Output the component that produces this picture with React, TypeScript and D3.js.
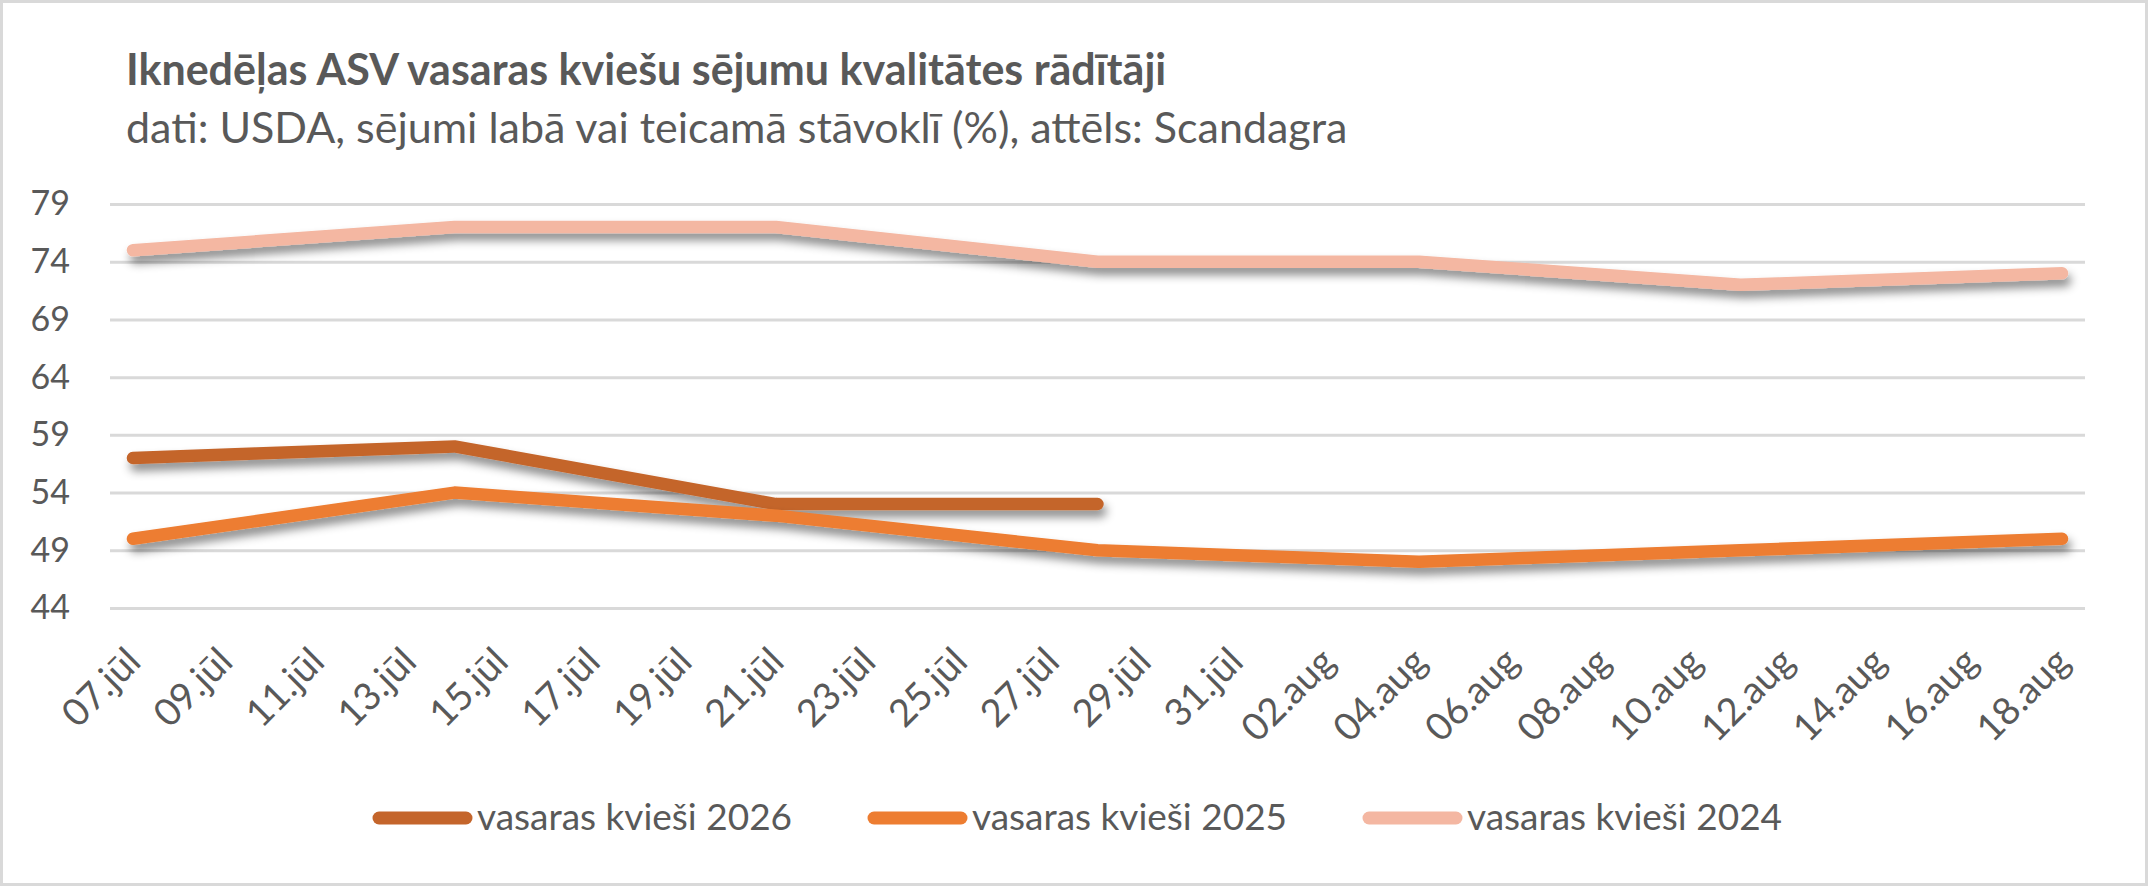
import { useEffect, useRef } from "react";
import * as d3 from "d3";

const W = 2148;
const H = 886;
const PLOT = { left: 110, right: 2085, top: 204, bottom: 608 };

// weekly USDA readings (good/excellent %)
const weekDates = ["2025-07-07", "2025-07-14", "2025-07-21", "2025-07-28", "2025-08-04", "2025-08-11", "2025-08-18"];
const wheat2026 = [57, 58, 53, 53];
const wheat2025 = [50, 54, 52, 49, 48, 49, 50];
const wheat2024 = [75, 77, 77, 74, 74, 72, 73];

const seriesNames = ["vasaras kvieši 2026", "vasaras kvieši 2025", "vasaras kvieši 2024"];
const seriesColors = ["#C4652B", "#ED7D31", "#F4B7A2"];

const yTicks = [44, 49, 54, 59, 64, 69, 74, 79];
const xTickLabels = [
  "07.jūl", "09.jūl", "11.jūl", "13.jūl", "15.jūl", "17.jūl", "19.jūl", "21.jūl", "23.jūl", "25.jūl", "27.jūl",
  "29.jūl", "31.jūl", "02.aug", "04.aug", "06.aug", "08.aug", "10.aug", "12.aug", "14.aug", "16.aug", "18.aug",
];

const TITLE = "Iknedēļas ASV vasaras kviešu sējumu kvalitātes rādītāji";
const SUBTITLE = "dati: USDA, sējumi labā vai teicamā stāvoklī (%), attēls: Scandagra";

const FONT = "Lato, 'Open Sans', sans-serif";
const TEXT = "#595959";

export default function App() {
  const svgRef = useRef<SVGSVGElement>(null);

  useEffect(() => {
    const svg = svgRef.current;
    if (!svg) return;
    const root = d3.select(svg);
    root.selectAll("*").remove();

    const parse = d3.timeParse("%Y-%m-%d");
    const dates = weekDates.map((d) => parse(d) as Date);
    const first = dates[0];
    const last = dates[dates.length - 1];

    // date axis with half a day of padding on each side, like Excel
    const x = d3
      .scaleTime()
      .domain([d3.timeHour.offset(first, -12), d3.timeHour.offset(last, 12)])
      .range([PLOT.left, PLOT.right]);
    const y = d3.scaleLinear().domain([44, 79]).range([PLOT.bottom, PLOT.top]);

    const defs = root.append("defs");
    const f = defs
      .append("filter")
      .attr("id", "shadow")
      .attr("filterUnits", "userSpaceOnUse")
      .attr("x", 0)
      .attr("y", 0)
      .attr("width", W)
      .attr("height", H);
    f.append("feDropShadow")
      .attr("dx", 3)
      .attr("dy", 7)
      .attr("stdDeviation", 5)
      .attr("flood-color", "#000")
      .attr("flood-opacity", 0.45);

    root.append("rect").attr("width", W).attr("height", H).attr("fill", "#fff");
    root
      .append("rect")
      .attr("x", 1.5)
      .attr("y", 1.5)
      .attr("width", W - 3)
      .attr("height", H - 3)
      .attr("fill", "none")
      .attr("stroke", "#d9d9d9")
      .attr("stroke-width", 3);

    // Titles
    root
      .append("text")
      .attr("x", 126)
      .attr("y", 85)
      .attr("font-family", FONT)
      .attr("font-weight", 700)
      .attr("font-size", 43)
      .attr("fill", TEXT)
      .text(TITLE);
    root
      .append("text")
      .attr("x", 126)
      .attr("y", 143)
      .attr("font-family", FONT)
      .attr("font-size", 43)
      .attr("fill", TEXT)
      .text(SUBTITLE);

    // Y axis + gridlines
    const yAxis = root
      .append("g")
      .attr("transform", `translate(${PLOT.left},0)`)
      .call(
        d3
          .axisLeft(y)
          .tickValues(yTicks)
          .tickSizeInner(-(PLOT.right - PLOT.left))
          .tickSizeOuter(0)
          .tickPadding(40)
      );
    yAxis.select(".domain").remove();
    yAxis.selectAll("line").attr("stroke", "#d9d9d9").attr("stroke-width", 3);
    yAxis
      .selectAll("text")
      .attr("font-family", FONT)
      .attr("font-size", 34)
      .attr("fill", TEXT);

    // X labels, every 2 days, rotated
    const tickDates = d3.timeDay.range(first, d3.timeDay.offset(last, 1), 2);
    root
      .append("g")
      .selectAll("text")
      .data(tickDates)
      .join("text")
      .attr("transform", (d) => `translate(${x(d) + 10},664) rotate(-45)`)
      .attr("text-anchor", "end")
      .attr("font-family", FONT)
      .attr("font-size", 38)
      .attr("fill", TEXT)
      .text((_, i) => xTickLabels[i]);

    // Lines
    const allSeries = [wheat2026, wheat2025, wheat2024];
    const line = d3
      .line<number>()
      .x((_, i) => x(dates[i]))
      .y((v) => y(v));

    root
      .append("g")
      .selectAll("path")
      .data(allSeries)
      .join("path")
      .attr("d", (s) => line(s))
      .attr("fill", "none")
      .attr("stroke", (_, i) => seriesColors[i])
      .attr("stroke-width", 12.5)
      .attr("stroke-linecap", "round")
      .attr("stroke-linejoin", "round")
      .attr("filter", "url(#shadow)");

    // Legend
    const legend = root
      .append("g")
      .selectAll("g")
      .data(seriesNames)
      .join("g")
      .attr("transform", (_, i) => `translate(${372 + i * 495},818)`);
    legend
      .append("line")
      .attr("x1", 7)
      .attr("x2", 94)
      .attr("stroke", (_, i) => seriesColors[i])
      .attr("stroke-width", 13)
      .attr("stroke-linecap", "round");
    legend
      .append("text")
      .attr("x", 105)
      .attr("y", 12)
      .attr("font-family", FONT)
      .attr("font-size", 37)
      .attr("fill", TEXT)
      .text((d) => d);

    return () => {
      root.selectAll("*").remove();
    };
  }, []);

  return (
    <svg
      ref={svgRef}
      width={W}
      height={H}
      style={{ position: "absolute", left: 0, top: 0, display: "block" }}
    />
  );
}
